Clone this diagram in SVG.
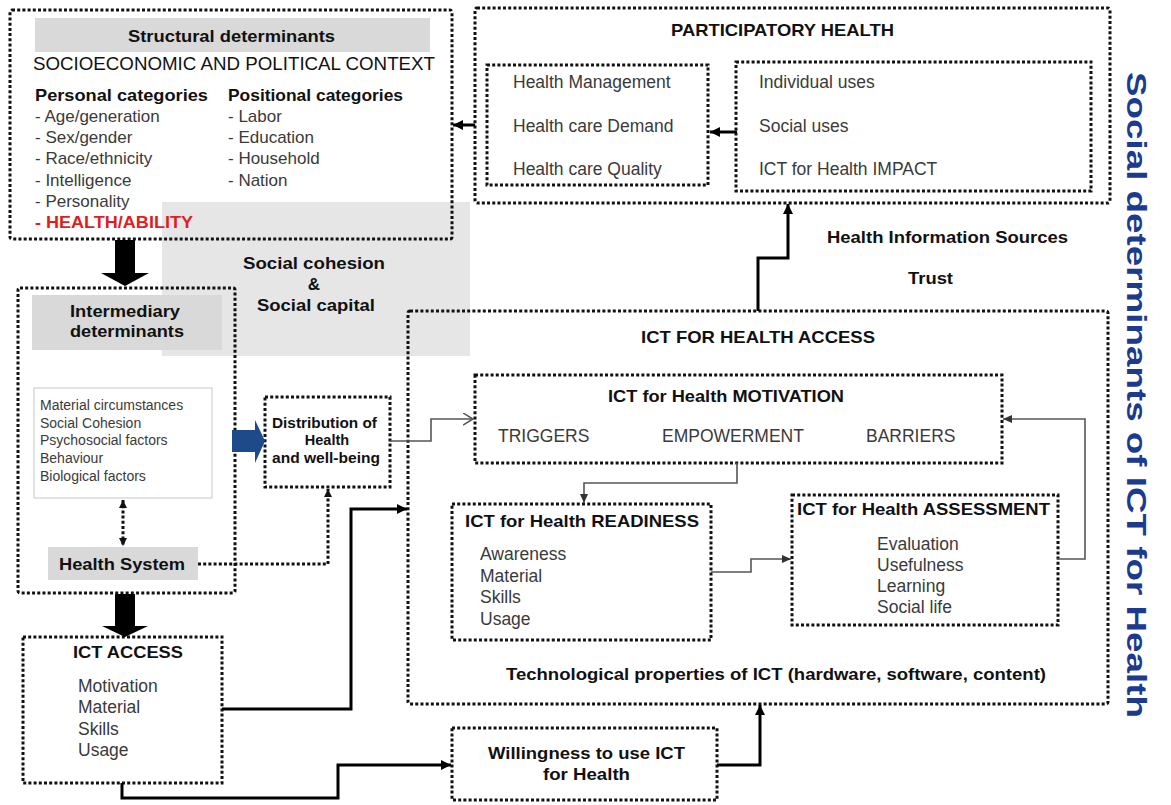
<svg xmlns="http://www.w3.org/2000/svg" width="1171" height="805" viewBox="0 0 1171 805">
<style>
.box{fill:none;stroke:#111;stroke-width:3;stroke-dasharray:3 2.2}
.b{font-family:"Liberation Sans",Arial,sans-serif;font-weight:bold;fill:#111}
.n{font-family:"Liberation Sans",Arial,sans-serif;fill:#3a3a3a}
.thick{fill:none;stroke:#000;stroke-width:3}
.thin{fill:none;stroke:#555;stroke-width:1.6}
.dot{fill:none;stroke:#111;stroke-width:3;stroke-dasharray:3 2.2}
.grey{fill:#d9d9d9}
</style>
<defs>
<marker id="ab" markerUnits="userSpaceOnUse" markerWidth="12" markerHeight="12" refX="10" refY="5" orient="auto"><path d="M0,0 L10,5 L0,10 z" fill="#000"/></marker>
<marker id="ag" markerUnits="userSpaceOnUse" markerWidth="10" markerHeight="10" refX="9" refY="4" orient="auto"><path d="M0,0 L9,4 L0,8 z" fill="#333"/></marker>
<marker id="ao" markerUnits="userSpaceOnUse" markerWidth="12" markerHeight="14" refX="10" refY="6" orient="auto"><path d="M0,0 L10,6 L0,12" fill="none" stroke="#555" stroke-width="1.5"/></marker>
<marker id="ad" markerUnits="userSpaceOnUse" markerWidth="10" markerHeight="10" refX="8" refY="4" orient="auto-start-reverse"><path d="M0,0 L8,4 L0,8 z" fill="#111"/></marker>
</defs>
<rect width="1171" height="805" fill="#fff"/>
<rect id="social-cohesion-bg" x="162" y="202" width="308" height="154" fill="#e6e6e6"/>

<g id="structural">
<rect class="box" x="10" y="10" width="442" height="229" rx="2"/>
<rect class="grey" x="35" y="18" width="395" height="34"/>
<text class="b" x="128" y="42" font-size="16.5" textLength="207" lengthAdjust="spacingAndGlyphs">Structural determinants</text>
<text class="n" x="33" y="70" font-size="18.5" style="fill:#111" textLength="402" lengthAdjust="spacingAndGlyphs">SOCIOECONOMIC AND POLITICAL CONTEXT</text>
<text class="b" x="35" y="101" font-size="16.5" textLength="173" lengthAdjust="spacingAndGlyphs">Personal categories</text>
<text class="b" x="228" y="101" font-size="16.5" textLength="175" lengthAdjust="spacingAndGlyphs">Positional categories</text>
<g class="n" font-size="17">
<text x="35" y="122">- Age/generation</text>
<text x="35" y="143">- Sex/gender</text>
<text x="35" y="164">- Race/ethnicity</text>
<text x="35" y="186">- Intelligence</text>
<text x="35" y="207">- Personality</text>
<text x="228" y="122">- Labor</text>
<text x="228" y="143">- Education</text>
<text x="228" y="164">- Household</text>
<text x="228" y="186">- Nation</text>
</g>
<text class="b" x="35" y="228" font-size="17" style="fill:#e01e1e" textLength="158" lengthAdjust="spacingAndGlyphs">- HEALTH/ABILITY</text>
</g>

<g id="social-cohesion">
<text class="b" x="243" y="269" font-size="17" textLength="142" lengthAdjust="spacingAndGlyphs">Social cohesion</text>
<text class="b" x="314" y="290" font-size="17" text-anchor="middle">&amp;</text>
<text class="b" x="257" y="311" font-size="17" textLength="118" lengthAdjust="spacingAndGlyphs">Social capital</text>
</g>

<g id="participatory-health">
<rect class="box" x="475" y="8" width="635" height="195" rx="2"/>
<text class="b" x="671" y="36" font-size="17" textLength="223" lengthAdjust="spacingAndGlyphs">PARTICIPATORY HEALTH</text>
</g>
<g id="health-outcomes">
<rect class="box" x="487" y="65" width="221" height="120"/>
<text class="n" x="513" y="88" font-size="17.5">Health Management</text>
<text class="n" x="513" y="132" font-size="17.5">Health care Demand</text>
<text class="n" x="513" y="175" font-size="17.5">Health care Quality</text>
</g>
<g id="uses">
<rect class="box" x="736" y="62" width="355" height="129"/>
<text class="n" x="759" y="88" font-size="17.5">Individual  uses</text>
<text class="n" x="759" y="132" font-size="17.5">Social uses</text>
<text class="n" x="759" y="175" font-size="17.5">ICT for Health  IMPACT</text>
</g>

<g id="info-sources">
<text class="b" x="827" y="243" font-size="17" textLength="241" lengthAdjust="spacingAndGlyphs">Health Information  Sources</text>
<text class="b" x="908" y="284" font-size="17" textLength="45" lengthAdjust="spacingAndGlyphs">Trust</text>
</g>

<g id="intermediary">
<rect class="box" x="18" y="288" width="217" height="305" rx="2"/>
<rect class="grey" x="32" y="295" width="190" height="55"/>
<text class="b" x="70" y="317" font-size="17" textLength="110" lengthAdjust="spacingAndGlyphs">Intermediary</text>
<text class="b" x="70" y="337" font-size="17" textLength="114" lengthAdjust="spacingAndGlyphs">determinants</text>
<rect x="34" y="388" width="178" height="110" fill="#fff" stroke="#c8c8c8" stroke-width="1"/>
<g class="n" font-size="14">
<text x="40" y="410">Material circumstances</text>
<text x="40" y="428">Social Cohesion</text>
<text x="40" y="445">Psychosocial factors</text>
<text x="40" y="463">Behaviour</text>
<text x="40" y="481">Biological factors</text>
</g>
</g>
<g id="health-system">
<rect class="grey" x="48" y="547" width="150" height="33"/>
<text class="b" x="59" y="570" font-size="17" textLength="126" lengthAdjust="spacingAndGlyphs">Health System</text>
</g>

<g id="distribution">
<rect class="box" x="265" y="397" width="125" height="90"/>
<text class="b" x="272" y="428" font-size="14.5" textLength="105" lengthAdjust="spacingAndGlyphs">Distribution  of</text>
<text class="b" x="327" y="445" font-size="14.5" text-anchor="middle">Health</text>
<text class="b" x="272" y="463" font-size="14.5" textLength="108" lengthAdjust="spacingAndGlyphs">and well-being</text>
</g>

<g id="ict-access">
<rect class="box" x="23" y="637" width="199" height="146"/>
<text class="b" x="73" y="658" font-size="17" textLength="110" lengthAdjust="spacingAndGlyphs">ICT ACCESS</text>
<g class="n" font-size="17.5">
<text x="78" y="692">Motivation</text>
<text x="78" y="713">Material</text>
<text x="78" y="735">Skills</text>
<text x="78" y="756">Usage</text>
</g>
</g>

<g id="ict-health-access">
<rect class="box" x="408" y="311" width="700" height="393" rx="2"/>
<text class="b" x="641" y="343" font-size="17" textLength="234" lengthAdjust="spacingAndGlyphs">ICT FOR HEALTH ACCESS</text>
<text class="b" x="506" y="680" font-size="16" textLength="540" lengthAdjust="spacingAndGlyphs">Technological properties  of ICT (hardware, software, content)</text>
</g>
<g id="motivation">
<rect class="box" x="475" y="375" width="527" height="88"/>
<text class="b" x="608" y="402" font-size="17" textLength="236" lengthAdjust="spacingAndGlyphs">ICT for Health MOTIVATION</text>
<text class="n" x="498" y="442" font-size="17.5">TRIGGERS</text>
<text class="n" x="662" y="442" font-size="17.5">EMPOWERMENT</text>
<text class="n" x="866" y="442" font-size="17.5">BARRIERS</text>
</g>
<g id="readiness">
<rect class="box" x="452" y="504" width="259" height="136"/>
<text class="b" x="465" y="527" font-size="17" textLength="234" lengthAdjust="spacingAndGlyphs">ICT for Health READINESS</text>
<g class="n" font-size="17.5">
<text x="480" y="560">Awareness</text>
<text x="480" y="582">Material</text>
<text x="480" y="603">Skills</text>
<text x="480" y="625">Usage</text>
</g>
</g>
<g id="assessment">
<rect class="box" x="792" y="495" width="266" height="130"/>
<text class="b" x="797" y="515" font-size="17" textLength="253" lengthAdjust="spacingAndGlyphs">ICT for Health ASSESSMENT</text>
<g class="n" font-size="17.5">
<text x="877" y="550">Evaluation</text>
<text x="877" y="571">Usefulness</text>
<text x="877" y="592">Learning</text>
<text x="877" y="613">Social life</text>
</g>
</g>
<g id="willingness">
<rect class="box" x="452" y="728" width="265" height="72"/>
<text class="b" x="488" y="759" font-size="17" textLength="197" lengthAdjust="spacingAndGlyphs">Willingness to use ICT</text>
<text class="b" x="543" y="780" font-size="17" textLength="87" lengthAdjust="spacingAndGlyphs">for Health</text>
</g>

<g id="connectors">
<polygon points="115,240 135,240 135,273 149,273 125,286 101,273 115,273" fill="#000"/>
<polygon points="115,594 135,594 135,626 148,626 125,637 102,626 115,626" fill="#000"/>
<polygon points="232,430 255,430 255,420 265,441 255,463 255,452 232,452" fill="#1f4a8a"/>
<path class="dot" d="M123,500 V546" marker-start="url(#ad)" marker-end="url(#ad)"/>
<path class="dot" d="M198,564 H328 V489" marker-end="url(#ad)"/>
<path class="thin" d="M390,441 H431 V419 H473" marker-end="url(#ao)"/>
<path class="thin" d="M737,463 V483 H584 V503" marker-end="url(#ag)"/>
<path class="thin" d="M711,572 H751 V559 H791" marker-end="url(#ag)"/>
<path class="thin" d="M1057,559 H1085 V419 H1003" marker-end="url(#ag)"/>
<path class="thick" d="M222,709 H351 V509 H407" marker-end="url(#ab)"/>
<path class="thick" d="M122,783 V798 H338 V765 H451" marker-end="url(#ab)"/>
<path class="thick" d="M717,765 H760 V705" marker-end="url(#ab)"/>
<path class="thick" d="M758,311 V258 H788 V204" marker-end="url(#ab)"/>
<path class="thick" d="M475,125 H453" stroke-width="2.5" marker-end="url(#ab)"/>
<path class="thick" d="M737,132 H710" stroke-width="2.5" marker-end="url(#ab)"/>
</g>

<text id="title" transform="translate(1127,72) rotate(90)" font-family="'Liberation Sans',Arial,sans-serif" font-size="27" font-weight="bold" fill="#1c3a8e" textLength="646" lengthAdjust="spacingAndGlyphs">Social determinants of ICT for Health</text>
</svg>
